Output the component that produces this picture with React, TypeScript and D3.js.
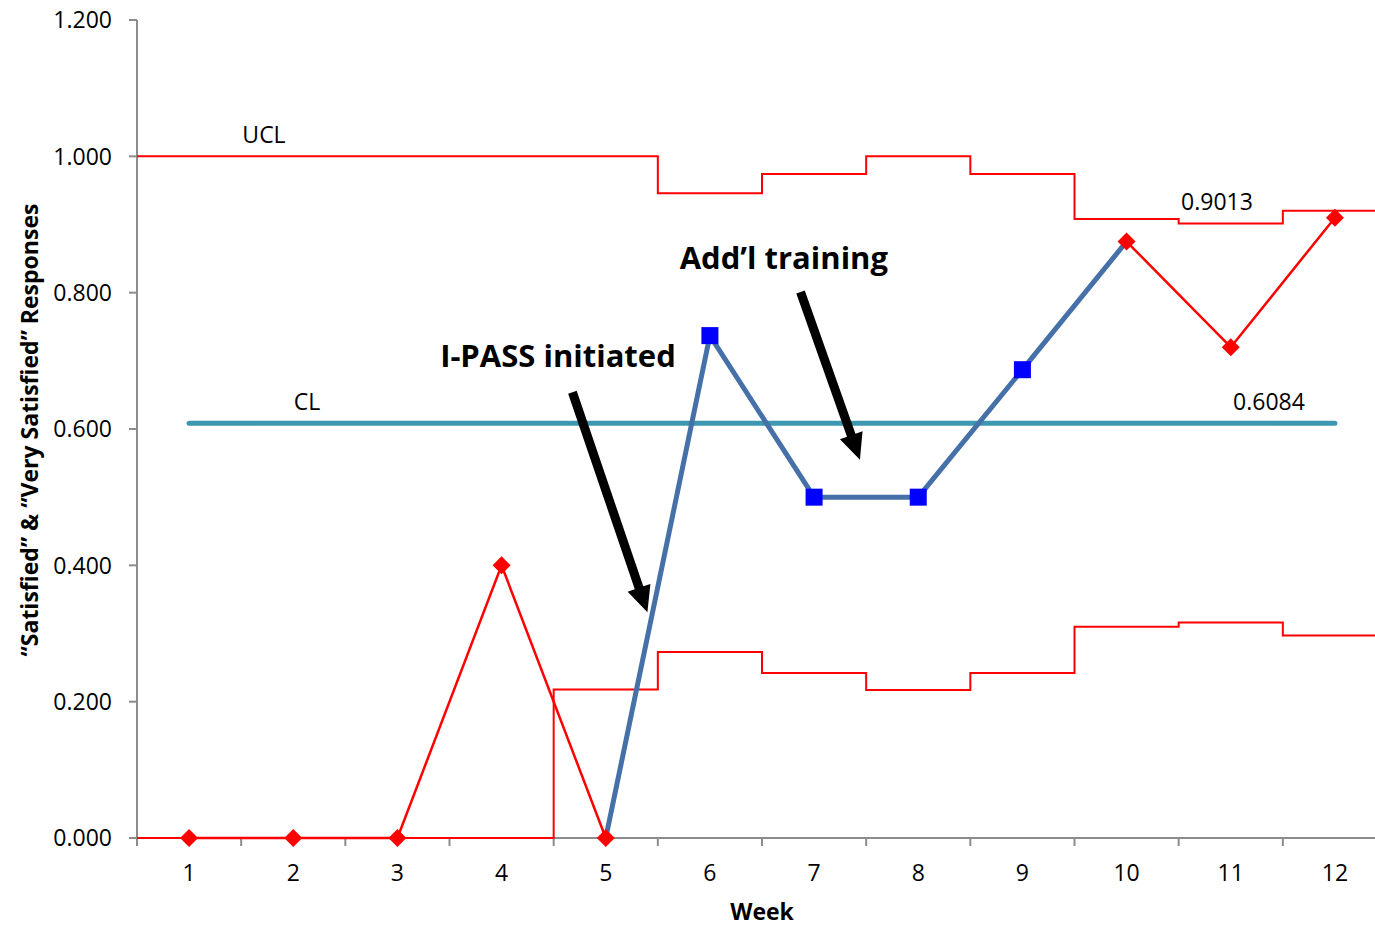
import React from "react";
import * as d3 from "d3";

const weeks = [1, 2, 3, 4, 5, 6, 7, 8, 9, 10, 11, 12];
const proportion = [0, 0, 0, 0.4, 0, 0.737, 0.5, 0.5, 0.687, 0.875, 0.72, 0.91];
const ucl = [1, 1, 1, 1, 1, 0.946, 0.974, 1, 0.974, 0.908, 0.9013, 0.92];
const lcl = [0, 0, 0, 0, 0.218, 0.273, 0.242, 0.217, 0.242, 0.31, 0.316, 0.297];
const centerLine = 0.6084;
const yTicks = [0, 0.2, 0.4, 0.6, 0.8, 1.0, 1.2];
// weeks drawn as squares (in-control run after I-PASS)
const blueWeeks = [6, 7, 8, 9];

// annotation arrows in data units: [week, value] tail -> tip
const arrows = [
  { label: "I-PASS initiated", from: [4.68, 0.654], to: [5.4, 0.331], text: [3.41, 0.707] },
  { label: "Add\u2019l training", from: [6.87, 0.801], to: [7.44, 0.555], text: [5.71, 0.851] },
];

const W = 1375;
const H = 925;
const FONT = "'Open Sans', 'Liberation Sans', sans-serif";
const FS = 23;

export default function App() {
  const x = d3.scaleLinear().domain([0.5, 12.5]).range([137, 1387]);
  const y = d3.scaleLinear().domain([0, 1.2]).range([838, 20]);

  const stepPath = (vals: number[]) => {
    const pts: [number, number][] = [];
    vals.forEach((v, i) => {
      pts.push([x(weeks[i] - 0.5), y(v)]);
      pts.push([x(weeks[i] + 0.5), y(v)]);
    });
    return d3.line()(pts) as string;
  };

  const seg = (from: number, to: number) =>
    d3
      .line<[number, number]>()
      .x((d) => x(d[0]))
      .y((d) => y(d[1]))(weeks.slice(from, to).map((w, i) => [w, proportion[i + from]])) as string;

  const arrowShape = (a: typeof arrows[0]) => {
    const x0 = x(a.from[0]), y0 = y(a.from[1]);
    const x1 = x(a.to[0]), y1 = y(a.to[1]);
    const dx = x1 - x0, dy = y1 - y0;
    const len = Math.hypot(dx, dy);
    const ux = dx / len, uy = dy / len;
    const nx = -uy, ny = ux;
    const head = 26, hw = 12, sw = 4.5;
    const bx = x1 - ux * head, by = y1 - uy * head;
    const pts = [
      [x0 + nx * sw, y0 + ny * sw],
      [bx + nx * sw, by + ny * sw],
      [bx + nx * hw, by + ny * hw],
      [x1, y1],
      [bx - nx * hw, by - ny * hw],
      [bx - nx * sw, by - ny * sw],
      [x0 - nx * sw, y0 - ny * sw],
    ];
    return pts.map((p) => p.join(",")).join(" ");
  };

  const axisColor = "#8c8c8c";

  return (
    <svg width={W} height={H} style={{ position: "absolute", left: 0, top: 0, background: "#fff" }} fontFamily={FONT}>
      {/* y axis */}
      <line x1={137} x2={137} y1={y(1.2)} y2={y(0)} stroke={axisColor} strokeWidth={2} />
      {yTicks.map((t) => (
        <g key={t}>
          <line x1={129} x2={137} y1={y(t)} y2={y(t)} stroke={axisColor} strokeWidth={2} />
          <text x={112} y={y(t)} dy="0.36em" textAnchor="end" fontSize={FS} fill="#000">
            {d3.format(".3f")(t)}
          </text>
        </g>
      ))}
      {/* x axis */}
      <line x1={137} x2={W} y1={y(0)} y2={y(0)} stroke={axisColor} strokeWidth={2} />
      {weeks.map((w) => (
        <g key={w}>
          <line x1={x(w - 0.5)} x2={x(w - 0.5)} y1={y(0)} y2={y(0) + 8} stroke={axisColor} strokeWidth={2} />
          <text x={x(w)} y={873} dy="0.36em" textAnchor="middle" fontSize={FS} fill="#000">
            {w}
          </text>
        </g>
      ))}
      <text x={762} y={912} dy="0.36em" textAnchor="middle" fontSize={FS} fontWeight="bold">
        Week
      </text>
      <text
        transform={`translate(30,430) rotate(-90)`}
        dy="0.36em"
        textAnchor="middle"
        fontSize={FS}
        fontWeight="bold"
      >
        {"\u201CSatisfied\u201D & \u201CVery Satisfied\u201D Responses"}
      </text>

      {/* control limits */}
      <path d={stepPath(ucl)} fill="none" stroke="#ff0000" strokeWidth={2} />
      <path d={stepPath(lcl)} fill="none" stroke="#ff0000" strokeWidth={2} />
      <line
        x1={x(1)}
        x2={x(12)}
        y1={y(centerLine)}
        y2={y(centerLine)}
        stroke="#3d97b0"
        strokeWidth={5}
        strokeLinecap="round"
      />

      {/* data */}
      <path d={seg(0, 5)} fill="none" stroke="#ff0000" strokeWidth={2.5} />
      <path d={seg(9, 12)} fill="none" stroke="#ff0000" strokeWidth={2.5} />
      <path d={seg(4, 10)} fill="none" stroke="#4571a8" strokeWidth={5} strokeLinejoin="round" />
      {weeks.map((w, i) =>
        blueWeeks.includes(w) ? (
          <rect key={w} x={x(w) - 8.5} y={y(proportion[i]) - 8.5} width={17} height={17} fill="#0000ff" />
        ) : (
          <path key={w} d={`M${x(w)},${y(proportion[i]) - 9}l9,9l-9,9l-9,-9z`} fill="#ff0000" />
        )
      )}

      {/* labels */}
      <text x={264} y={135} dy="0.36em" textAnchor="middle" fontSize={FS}>UCL</text>
      <text x={307} y={402} dy="0.36em" textAnchor="middle" fontSize={FS}>CL</text>
      <text x={1269} y={402} dy="0.36em" textAnchor="middle" fontSize={FS}>
        {d3.format(".4f")(centerLine)}
      </text>
      <text x={1217} y={202} dy="0.36em" textAnchor="middle" fontSize={FS}>
        {d3.format(".4f")(ucl[10])}
      </text>

      {/* annotations */}
      {arrows.map((a) => (
        <g key={a.label}>
          <polygon points={arrowShape(a)} fill="#000" />
          <text x={x(a.text[0])} y={y(a.text[1])} dy="0.36em" fontSize={31} fontWeight="bold">
            {a.label}
          </text>
        </g>
      ))}
    </svg>
  );
}
